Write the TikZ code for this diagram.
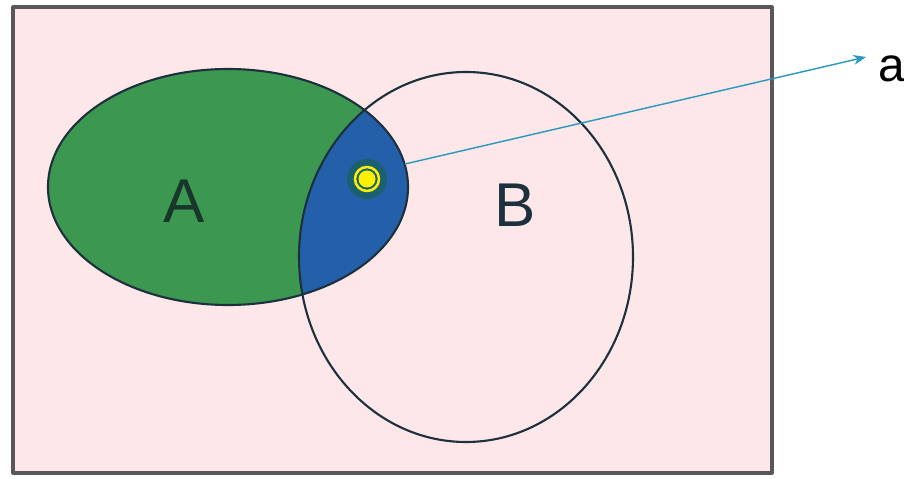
\documentclass[tikz,border=0pt]{standalone}
\usepackage{fontspec}
\setmainfont{Liberation Sans}
\usetikzlibrary{arrows.meta}
\definecolor{bgpink}{RGB}{253,231,232}
\definecolor{framegray}{RGB}{88,88,92}
\definecolor{setgreen}{RGB}{60,152,80}
\definecolor{setblue}{RGB}{36,96,170}
\definecolor{edgedark}{RGB}{28,48,62}
\definecolor{dotteal}{RGB}{28,96,112}
\definecolor{dotyellow}{RGB}{255,240,0}
\definecolor{arrowblue}{RGB}{40,152,190}
\tikzset{
  setedge/.style={draw=edgedark, line width=1.5pt},
  setlabel/.style={inner sep=0pt, font=\fontsize{44}{48}\selectfont}
}
\begin{document}
\begin{tikzpicture}[x=0.025cm, y=-0.025cm, >={Stealth[length=9pt,width=7pt]}, line join=round]
\useasboundingbox (0,0) rectangle (904,479);
\fill[white] (0,0) rectangle (904,479);
% universe
\filldraw[fill=bgpink, draw=framegray, line width=2.2pt] (13,7) rectangle (772,473);
% set A and the part it shares with B
\fill[setgreen] (228,187) ellipse [x radius=180, y radius=118];
\begin{scope}
  \clip (466,257) ellipse [x radius=167, y radius=185];
  \fill[setblue] (228,187) ellipse [x radius=180, y radius=118];
\end{scope}
\draw[setedge] (228,187) ellipse [x radius=180, y radius=118];
\draw[setedge] (466,257) ellipse [x radius=167, y radius=185];
\node[setlabel, text=edgedark!60!setgreen!60!black] (labA) at (184,201) {A};
\node[setlabel, text=edgedark] (labB) at (515,205) {B};
% the element a
\fill[dotteal] (367,179) circle [radius=20];
\draw[dotyellow, line width=1.8pt] (367,179) circle [radius=12];
\fill[dotyellow] (367,179) circle [radius=8.5];
\coordinate (tail) at (405,164);
\coordinate (tip) at (866,57);
\node[inner sep=0pt, anchor=base west, font=\fontsize{34}{38}\selectfont] (a) at (878,82) {a};
\draw[->, arrowblue, line width=1pt] (tail) -- (tip);
\end{tikzpicture}
\end{document}
